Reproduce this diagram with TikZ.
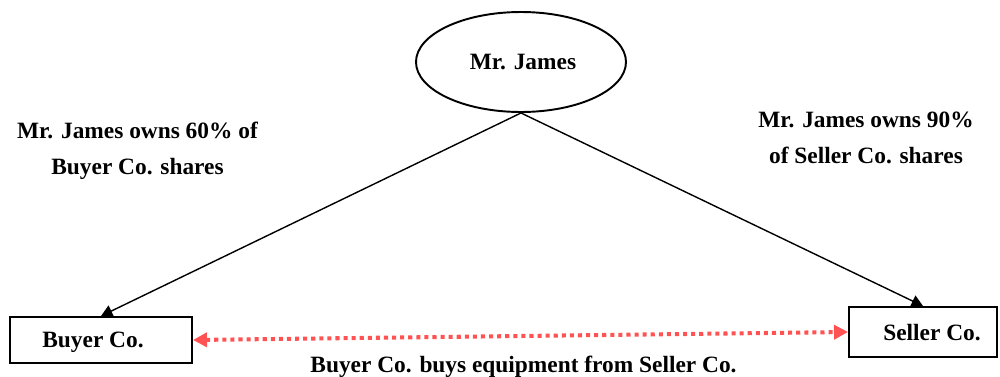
\documentclass[tikz,border=0pt]{standalone}
\usepackage{fontspec}
\setmainfont{Liberation Serif}
\usetikzlibrary{arrows.meta,shapes.geometric}
\definecolor{dealred}{RGB}{255,82,82}
\tikzset{
    every node/.style={font=\fontsize{13.3}{20.5}\selectfont\bfseries},
    company/.style={draw, line width=1.1pt, rectangle, inner sep=0pt, text depth=0pt},
    owner/.style={draw, line width=1.1pt, ellipse, inner sep=0pt,
        minimum width=4.2cm, minimum height=2cm},
    owns/.style={line width=0.8pt, -{Triangle[length=6.5pt,width=7pt]}},
    deal/.style={dealred, line width=2.3pt, dash pattern=on 2.3pt off 2.3pt,
        {Triangle[length=8pt,width=8pt]}-{Triangle[length=8pt,width=8pt]}}
}
\begin{document}
\begin{tikzpicture}
    \useasboundingbox (0,0) rectangle (20,7.52);

    % Owner and companies
    \node[owner] (james) at (10.42,6.28) {\kern0.08cm Mr. James};
    \node[company, minimum width=3.64cm, minimum height=0.92cm, text height=0.86em] (buyer) at (2.02,0.72) {Buyer Co.\kern0.32cm};
    \node[company, minimum width=2.96cm, minimum height=1.0cm, text height=0.94em] (seller) at (18.46,0.88) {\kern0.36cm Seller Co.};

    % Shareholdings
    \draw[owns] (james.south) -- (buyer.north);
    \draw[owns] (james.south) -- (seller.north);
    \node[align=center] (buyshare) at (2.75,4.50) {Mr. James owns 60\% of\\Buyer Co. shares};
    \node[align=center] (sellshare) at (17.32,4.76) {Mr. James owns 90\%\\of Seller Co. shares};

    % Sale between the companies
    \draw[deal] (buyer.east) -- (seller.west);
    \node[anchor=base] (sale) at (10.47,0.08) {Buyer Co. buys equipment from Seller Co.};
\end{tikzpicture}
\end{document}
